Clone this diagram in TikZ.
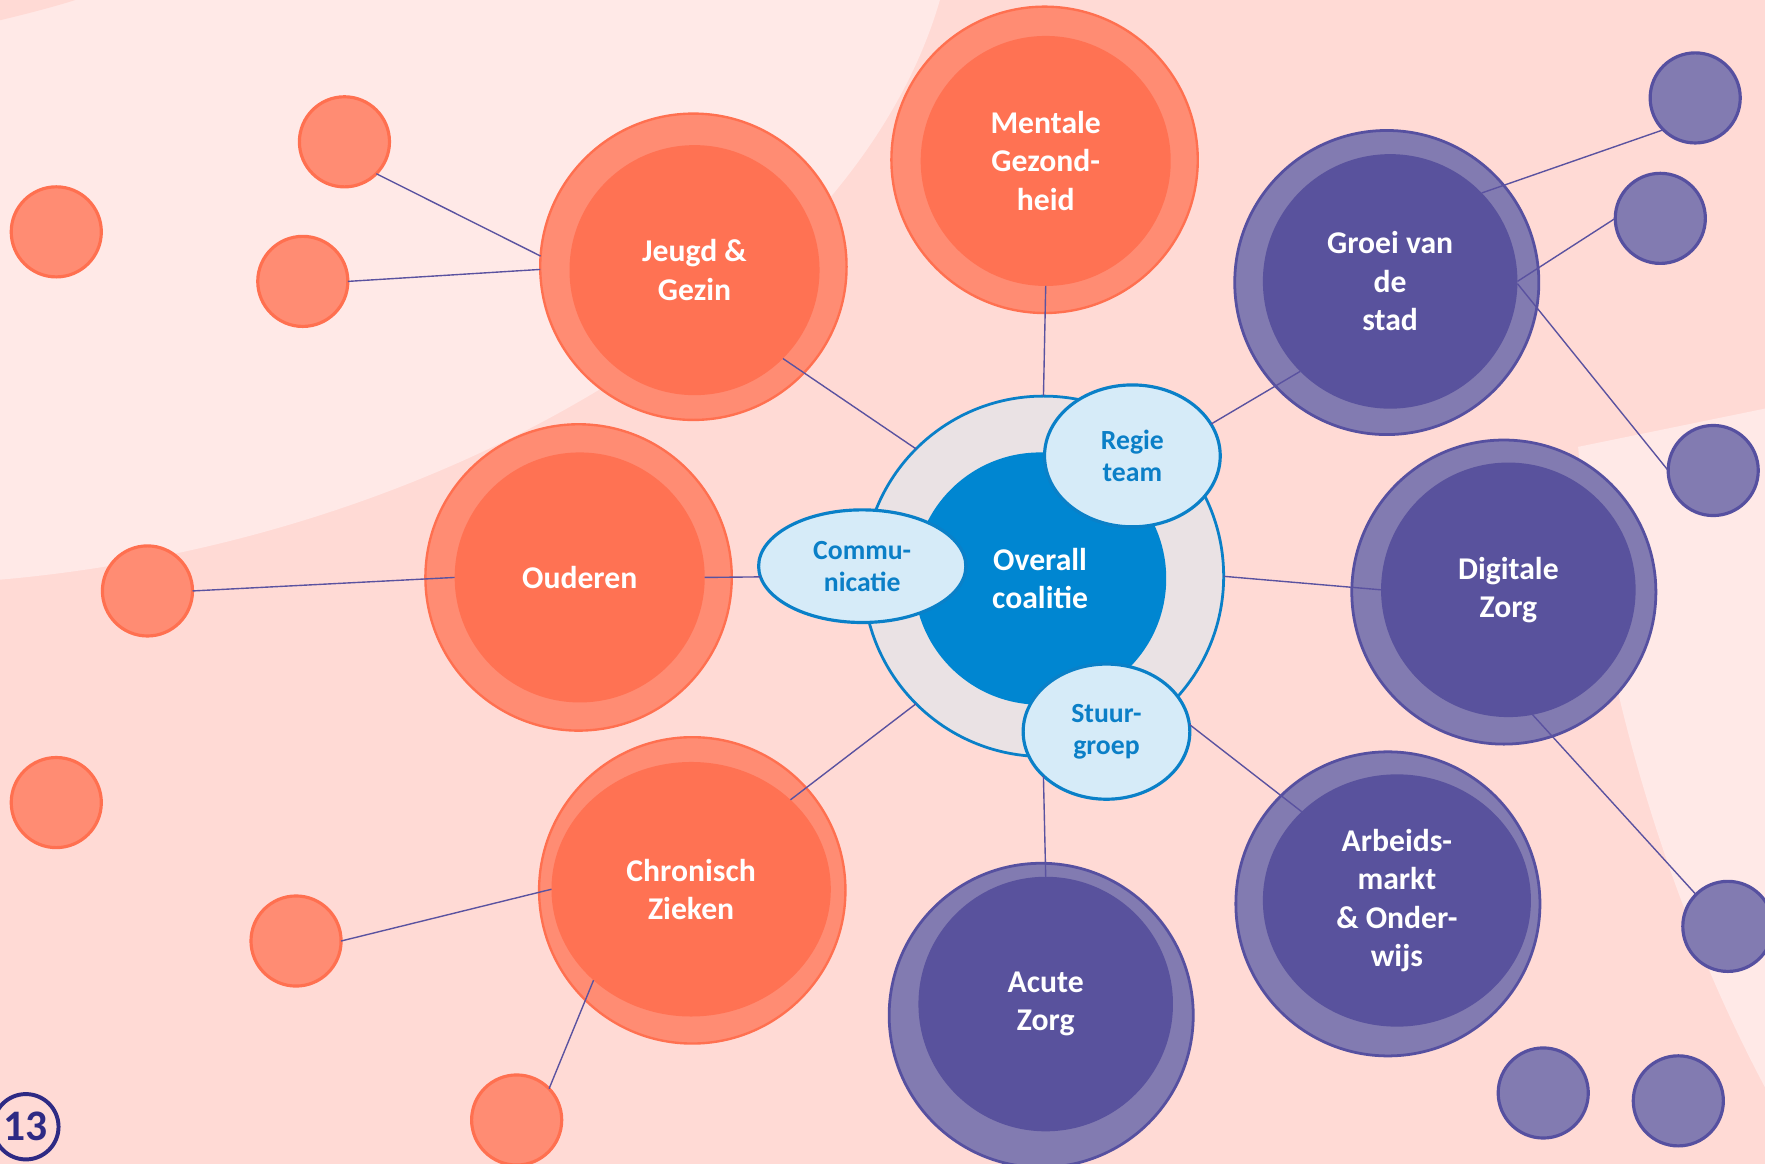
\documentclass[tikz,border=0pt]{standalone}
\usepackage{fontspec}
\setmainfont{Carlito}
\usetikzlibrary{shapes.geometric}
\definecolor{bgdark}{HTML}{FFDAD5}
\definecolor{bglight}{HTML}{FFE9E7}
\definecolor{orout}{HTML}{FF8C73}
\definecolor{orin}{HTML}{FF7253}
\definecolor{oredge}{HTML}{FF7050}
\definecolor{puout}{HTML}{827BB1}
\definecolor{puin}{HTML}{59529D}
\definecolor{puedge}{HTML}{5650A0}
\definecolor{ringfill}{HTML}{EAE2E4}
\definecolor{coalblue}{HTML}{0086D1}
\definecolor{coaledge}{HTML}{0A80C8}
\definecolor{teamfill}{HTML}{D6EBF8}
\definecolor{teamtext}{HTML}{0B7FC7}
\definecolor{linkcol}{HTML}{5A52A0}
\definecolor{badge}{HTML}{2E2A84}

\begin{document}
\begin{tikzpicture}[x=0.01cm,y=-0.01cm,
    every node/.style={inner sep=0pt,outer sep=0pt},
    bigtext/.style={text=white,align=center,font=\bfseries\fontsize{8}{9.7}\selectfont},
    orring/.style={circle,fill=orout,draw=oredge,line width=0.6pt,minimum size=2.72cm},
    orcore/.style={circle,fill=orin,minimum size=2.22cm,bigtext},
    puring/.style={circle,fill=puout,draw=puedge,line width=0.7pt,minimum size=2.7cm},
    pucore/.style={circle,fill=puin,minimum size=2.26cm,bigtext},
    ordot/.style={circle,fill=orout,draw=oredge,line width=0.8pt,minimum size=0.8cm},
    pudot/.style={circle,fill=puout,draw=puedge,line width=0.8pt,minimum size=0.8cm},
    team/.style={ellipse,fill=teamfill,draw=coaledge,line width=0.8pt,text=teamtext,
                 align=center,font=\bfseries\fontsize{7}{8}\selectfont},
    wire/.style={draw=linkcol,line width=0.35pt}]
\useasboundingbox (0,0) rectangle (1568,1034);
\clip (0,0) rectangle (1568,1034);

\fill[bgdark]  (0,0) rectangle (1568,1034);
\fill[bglight] (0,0) -- (0,515) .. controls (400,480) and (760,260) .. (835,0) -- cycle;
\fill[bgdark]  (0,0) -- (0,18) .. controls (25,12) and (48,6) .. (67,0) -- cycle;
\fill[bglight] (1402,397) -- (1568,363) -- (1568,966)
               .. controls (1480,800) and (1420,600) .. (1402,397) -- cycle;

\path
    ( 616, 237) node [orring] (jeugd0) {}
    ( 617, 240) node [orcore] (jeugd)  {Jeugd \&\\Gezin}
    ( 928, 142) node [orring] (ment0)  {}
    ( 929, 143) node [orcore] (ment)   {Mentale\\Gezond-\\heid}
    ( 514, 513) node [orring] (oud0)   {}
    ( 515, 513) node [orcore] (oud)    {Ouderen}
    ( 615, 791) node [orring] (chron0) {}
    ( 614, 790) node [orcore,ellipse,minimum width=2.48cm,minimum height=2.26cm]
                                      (chron)  {Chronisch\\Zieken};
\path
    (1232, 251) node [puring] (groei0) {}
    (1235, 250) node [pucore] (groei)  {Groei van\\de\\stad}
    (1336, 526) node [puring] (dig0)   {}
    (1340, 524) node [pucore] (dig)    {Digitale\\Zorg}
    (1233, 803) node [puring] (arb0)   {}
    (1241, 800) node [pucore,ellipse,minimum width=2.38cm,minimum height=2.24cm]
                                      (arb)    {Arbeids-\\markt\\\& Onder-\\wijs}
    ( 925, 902) node [puring] (acute0) {}
    ( 929, 892) node [pucore] (acute)  {Acute\\Zorg};
\path
    ( 306, 126) node [ordot] (dotj1) {}
    (  50, 206) node [ordot] (doto1) {}
    ( 269, 250) node [ordot] (dotj2) {}
    ( 131, 525) node [ordot] (dotu1) {}
    (  50, 713) node [ordot] (doto2) {}
    ( 263, 836) node [ordot] (dotc1) {}
    ( 459, 995) node [ordot] (dotc2) {}
    (1506,  87) node [pudot] (dotg1) {}
    (1475, 194) node [pudot] (dotg2) {}
    (1522, 418) node [pudot] (dotg3) {}
    (1535, 823) node [pudot] (dotd1) {}
    (1371, 971) node [pudot] (dotp1) {}
    (1491, 978) node [pudot] (dotp2) {};
\path
    ( 927, 512) node [circle,fill=ringfill,draw=coaledge,line width=0.7pt,minimum size=3.2cm] (ring) {}
    ( 924, 514) node [circle,fill=coalblue,minimum size=2.24cm,bigtext] (coal) {Overall\\coalitie}
    (1006, 405) node [team,minimum width=1.56cm,minimum height=1.26cm] (regie) {Regie\\team}
    ( 766, 503) node [team,minimum width=1.84cm,minimum height=1.0cm]  (comm)  {Commu-\\nicatie}
    ( 983, 650) node [team,minimum width=1.48cm,minimum height=1.2cm]  (stuur) {Stuur-\\groep};

\draw[wire]
    (dotj1.-45)  -- (jeugd0.176)
    (dotj2.east) -- (jeugd0.181)
    (jeugd.-45)  -- (ring.135)
    (ment.south) -- (ring.north)
    (groei.225)  -- (regie.22)
    (groei.44)   -- (dotg1.225)
    (groei.east) -- (dotg2.west)
    (groei.-1)   -- (dotg3.west)
    (ring.east)  -- (dig.west)
    (dig.281)    -- (dotd1.135)
    (dotu1.east) -- (oud.west)
    (oud.east)   -- (comm.186)
    (stuur.5)    -- (arb.137)
    (acute.north)-- (stuur.215)
    (chron.42)   -- (ring.225)
    (dotc1.east) -- (chron.west)
    (dotc2.44)   -- (chron.223);

\node[circle,draw=badge,line width=1pt,minimum size=0.58cm,text=badge,
      font=\bfseries\fontsize{11}{12}\selectfont] (page) at (23,1001) {13};
\end{tikzpicture}
\end{document}
